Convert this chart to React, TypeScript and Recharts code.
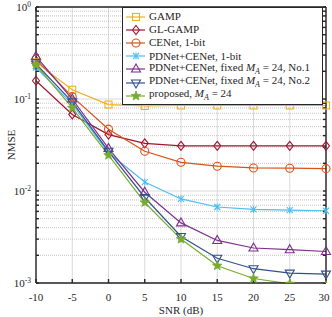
import React from 'react';
import {
  LineChart,
  Line,
  XAxis,
  YAxis,
  CartesianGrid,
  ReferenceLine,
  Label
} from 'recharts';

const snr = [-10, -5, 0, 5, 10, 15, 20, 25, 30];
const gamp = [0.25, 0.126, 0.087, 0.084, 0.085, 0.085, 0.085, 0.085, 0.085];
const glGamp = [0.158, 0.068, 0.041, 0.033, 0.031, 0.031, 0.031, 0.031, 0.031];
const cenet = [0.27, 0.106, 0.047, 0.027, 0.0205, 0.0186, 0.0178, 0.0177, 0.0175];
const pdnet1bit = [0.22, 0.088, 0.026, 0.0125, 0.0082, 0.0067, 0.0063, 0.0062, 0.0061];
const fixedNo1 = [0.29, 0.1, 0.029, 0.0097, 0.0045, 0.0029, 0.0024, 0.0023, 0.0022];
const fixedNo2 = [0.24, 0.093, 0.027, 0.0085, 0.0032, 0.00186, 0.00143, 0.00128, 0.00125];
const proposed = [0.235, 0.08, 0.0245, 0.0075, 0.003, 0.00154, 0.00112, 0.00098, 0.00094];

const xTicks = [-10, -5, 0, 5, 10, 15, 20, 25, 30];
const yTicks = [0.001, 0.01, 0.1, 1];
const minorY = [2, 3, 4, 5, 6, 7, 8, 9];
const minorValues = yTicks.slice(0, 3).flatMap(d => minorY.map(m => d * m));
const allYTicks = [...yTicks, ...minorValues].sort((a, b) => a - b);

const FONT = '"Liberation Serif", "DejaVu Serif", serif';
const INK = '#262626';

type Shape = 'square' | 'diamond' | 'circle' | 'asterisk' | 'triUp' | 'triDown' | 'star';

const series: { key: string; label: React.ReactNode; color: string; shape: Shape; values: number[] }[] = [
  { key: 'gamp', label: 'GAMP', color: '#EDB120', shape: 'square', values: gamp },
  { key: 'glGamp', label: 'GL-GAMP', color: '#A2142F', shape: 'diamond', values: glGamp },
  { key: 'cenet', label: 'CENet, 1-bit', color: '#D95319', shape: 'circle', values: cenet },
  { key: 'pdnet', label: 'PDNet+CENet, 1-bit', color: '#4DBEEE', shape: 'asterisk', values: pdnet1bit },
  {
    key: 'fixed1',
    label: <>PDNet+CENet, fixed <i>M</i><sub style={{ fontSize: 8 }}><i>A</i></sub> = 24, No.1</>,
    color: '#7E2F8E',
    shape: 'triUp',
    values: fixedNo1
  },
  {
    key: 'fixed2',
    label: <>PDNet+CENet, fixed <i>M</i><sub style={{ fontSize: 8 }}><i>A</i></sub> = 24, No.2</>,
    color: '#34508C',
    shape: 'triDown',
    values: fixedNo2
  },
  {
    key: 'proposed',
    label: <>proposed, <i>M</i><sub style={{ fontSize: 8 }}><i>A</i></sub> = 24</>,
    color: '#77AC30',
    shape: 'star',
    values: proposed
  }
];

const data = snr.map((x, i) => {
  const row: Record<string, number> = { snr: x };
  series.forEach(s => { row[s.key] = s.values[i]; });
  return row;
});

const Marker = ({ shape, cx, cy, color }: { shape: Shape; cx: number; cy: number; color: string }) => {
  const sw = 1.1;
  switch (shape) {
    case 'square':
      return <rect x={cx - 3.5} y={cy - 3.5} width={7} height={7} fill="none" stroke={color} strokeWidth={sw} />;
    case 'diamond':
      return <polygon points={`${cx},${cy - 4.5} ${cx + 3.5},${cy} ${cx},${cy + 4.5} ${cx - 3.5},${cy}`} fill="none" stroke={color} strokeWidth={sw} />;
    case 'circle':
      return <circle cx={cx} cy={cy} r={4} fill="none" stroke={color} strokeWidth={sw} />;
    case 'asterisk':
      return (
        <g stroke={color} strokeWidth={sw}>
          <line x1={cx - 3} y1={cy - 3} x2={cx + 3} y2={cy + 3} />
          <line x1={cx - 3} y1={cy + 3} x2={cx + 3} y2={cy - 3} />
          <line x1={cx} y1={cy - 3.5} x2={cx} y2={cy + 3.5} />
        </g>
      );
    case 'triUp':
      return <polygon points={`${cx},${cy - 5} ${cx + 4.5},${cy + 3} ${cx - 4.5},${cy + 3}`} fill="none" stroke={color} strokeWidth={sw} />;
    case 'triDown':
      return <polygon points={`${cx},${cy + 5} ${cx + 4.5},${cy - 3} ${cx - 4.5},${cy - 3}`} fill="none" stroke={color} strokeWidth={sw} />;
    case 'star': {
      const pts: string[] = [];
      for (let k = 0; k < 10; k++) {
        const r = k % 2 === 0 ? 5 : 2.1;
        const a = -Math.PI / 2 + (k * Math.PI) / 5;
        pts.push(`${cx + r * Math.cos(a)},${cy + r * Math.sin(a)}`);
      }
      return <polygon points={pts.join(' ')} fill={color} stroke={color} strokeWidth={0.8} />;
    }
  }
  return null;
};

const YTick = ({ x, y, payload }: any) => {
  const exp = Math.log10(payload.value);
  if (Math.abs(exp - Math.round(exp)) > 1e-6) return <g />;
  return (
    <text x={x} y={y} dy={4} textAnchor="end" fontFamily={FONT} fontSize={11} fill={INK}>
      <tspan>10</tspan>
      <tspan dy={-4} fontSize={7.5}>{Math.round(exp)}</tspan>
    </text>
  );
};

const XTick = ({ x, y, payload }: any) => (
  <text x={x} y={y} dy="0.71em" textAnchor="middle" fontFamily={FONT} fontSize={11} fill={INK}>
    {payload.value}
  </text>
);

const Legend = () => (
  <div
    style={{
      position: 'absolute',
      left: 122,
      top: 7,
      width: 199,
      background: '#fff',
      border: `1px solid ${INK}`,
      padding: '2px 0 2px 0',
      fontFamily: FONT,
      fontSize: 11,
      color: INK,
      lineHeight: '13.2px'
    }}
  >
    {series.map(s => (
      <div key={s.key} style={{ display: 'flex', alignItems: 'center', height: 13.2, whiteSpace: 'nowrap' }}>
        <svg width={22} height={12} style={{ marginLeft: 2, marginRight: 2, flex: 'none' }}>
          <line x1={1} y1={6} x2={20} y2={6} stroke={s.color} strokeWidth={1.2} />
          <Marker shape={s.shape} cx={11} cy={6} color={s.color} />
        </svg>
        <span>{s.label}</span>
      </div>
    ))}
  </div>
);

export default function App() {
  return (
    <div style={{ position: 'absolute', left: 0, top: 0, width: 332, height: 317, background: '#fff' }}>
      <LineChart width={332} height={317} data={data} margin={{ top: 6, right: 5, bottom: 0, left: 0 }}>
        <CartesianGrid stroke="#DADADA" strokeWidth={1} verticalValues={xTicks} horizontalValues={yTicks} />
        {minorValues.map(v => (
          <ReferenceLine key={`m${v}`} y={v} stroke="#B8B8B8" strokeWidth={0.8} strokeDasharray="1 1" />
        ))}
        <XAxis
          dataKey="snr"
          type="number"
          domain={[-10, 30]}
          ticks={xTicks}
          height={34}
          stroke={INK}
          strokeWidth={1.4}
          tickSize={-4}
          tickMargin={14}
          tick={<XTick />}
        >
          <Label
            content={({ viewBox }: any) => (
              <text x={viewBox.x + viewBox.width / 2} y={310} dy="0.35em" textAnchor="middle" fontFamily={FONT} fontSize={11} fill={INK}>
                SNR (dB)
              </text>
            )}
          />
        </XAxis>
        <XAxis
          xAxisId="top"
          orientation="top"
          type="number"
          domain={[-10, 30]}
          ticks={xTicks}
          height={1}
          stroke={INK}
          strokeWidth={1.4}
          tickSize={-4}
          tickFormatter={() => ''}
        />
        <YAxis
          scale="log"
          type="number"
          domain={[0.001, 1]}
          ticks={allYTicks}
          interval={0}
          allowDataOverflow
          width={36}
          stroke={INK}
          strokeWidth={1.4}
          tickSize={-3}
          tickMargin={8}
          tick={<YTick />}
        >
          <Label
            content={({ viewBox }: any) => {
              const cx = 11;
              const cy = viewBox.y + viewBox.height / 2;
              return (
                <text x={cx} y={cy} transform={`rotate(-90 ${cx} ${cy})`} dy="0.35em" textAnchor="middle" fontFamily={FONT} fontSize={11} fill={INK}>
                  NMSE
                </text>
              );
            }}
          />
        </YAxis>
        <YAxis
          yAxisId="right"
          orientation="right"
          scale="log"
          type="number"
          domain={[0.001, 1]}
          ticks={allYTicks}
          interval={0}
          allowDataOverflow
          width={1}
          stroke={INK}
          strokeWidth={1.4}
          tickSize={-3}
          tickFormatter={() => ''}
        />
        {series.map(s => (
          <Line
            key={s.key}
            dataKey={s.key}
            stroke={s.color}
            strokeWidth={1.2}
            isAnimationActive={false}
            dot={(p: any) => <Marker key={`${s.key}-${p.index}`} shape={s.shape} cx={p.cx} cy={p.cy} color={s.color} />}
            activeDot={false}
          />
        ))}
      </LineChart>
      <Legend />
    </div>
  );
}
